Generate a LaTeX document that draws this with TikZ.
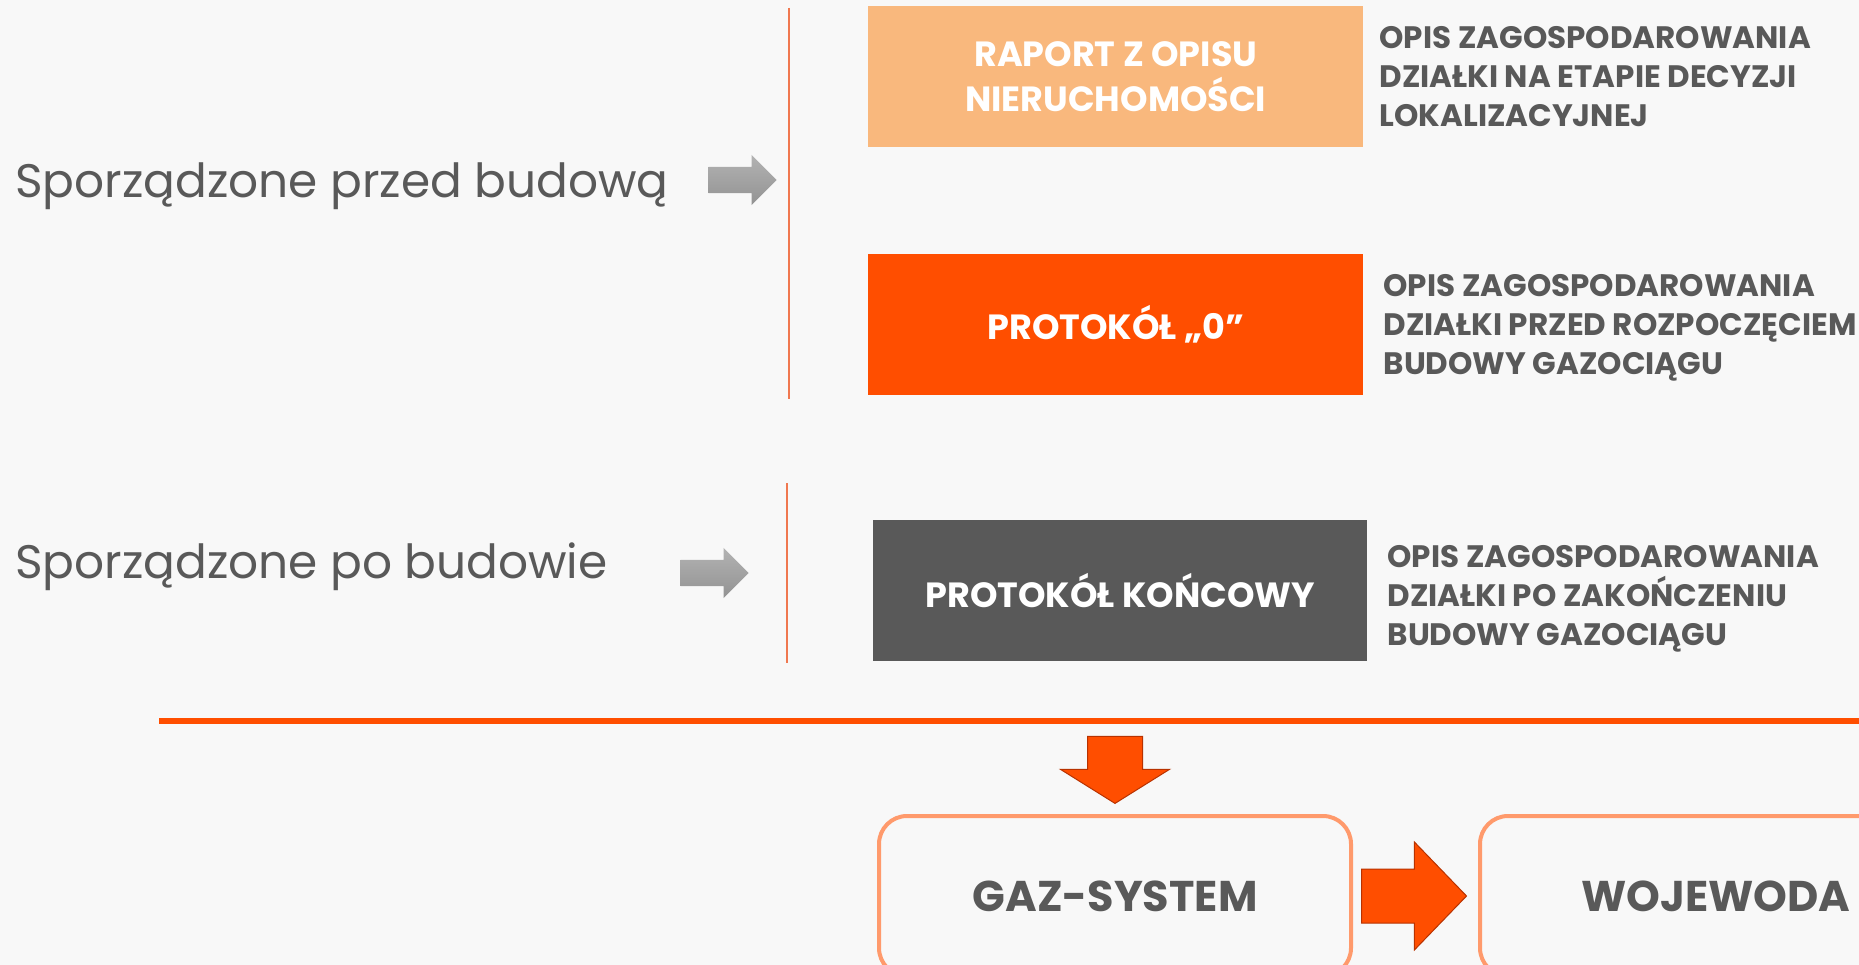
\documentclass[tikz,border=0pt]{standalone}
\usepackage{fontspec}
\setmainfont{Poppins}
\usetikzlibrary{positioning,shapes.arrows}

\definecolor{bgcol}{HTML}{F8F8F8}
\definecolor{txtgray}{HTML}{595959}
\definecolor{peach}{HTML}{F9B87D}
\definecolor{gasorange}{HTML}{FF4E00}
\definecolor{darkbox}{HTML}{595959}
\definecolor{sepline}{HTML}{F07850}
\definecolor{rimcol}{HTML}{FF9A6C}
\definecolor{arrowedge}{HTML}{B83200}

\tikzset{
  docbox/.style={inner sep=0pt, minimum width=495pt, minimum height=141pt, anchor=north west,
    text=white, align=center, font=\fontsize{35}{45}\selectfont\bfseries},
  desc/.style={inner sep=0pt, anchor=west, align=left, text=txtgray,
    font=\fontsize{31}{39}\selectfont\bfseries},
  phase/.style={inner sep=0pt, anchor=base west, text=txtgray, font=\fontsize{47}{56}\selectfont},
  grayarrow/.style={single arrow, inner xsep=0pt, inner ysep=13pt, minimum height=68pt, minimum width=50pt,
    single arrow head extend=12pt, single arrow tip angle=90, top color=gray!60, bottom color=gray!85},
  redarrow/.style={single arrow, fill=gasorange, draw=arrowedge, line width=1pt},
  roundbox/.style={draw=rimcol, line width=4pt, rounded corners=28pt, minimum width=472pt,
    minimum height=160pt, text=txtgray, font=\fontsize{43}{50}\selectfont\bfseries}
}

\begin{document}
\begin{tikzpicture}[x=1pt, y=-1pt]

\useasboundingbox (0,0) rectangle (1859,965);
\fill[bgcol] (0,0) rectangle (1859,965);
\clip (0,0) rectangle (1859,965);

% before construction
\node[phase] (before) at (15,198) {Sporządzone przed budową};
\node[grayarrow, anchor=tip] (arr1) at (777,180) {};
\draw[sepline, line width=1.5pt] (789,8) -- (789,399);

\node[docbox, fill=peach] (raport) at (868,6) {RAPORT Z OPISU\\NIERUCHOMOŚCI};
\node[desc, right=16pt of raport] (raportdesc) {OPIS ZAGOSPODAROWANIA\\DZIAŁKI NA ETAPIE DECYZJI\\LOKALIZACYJNEJ};

\node[docbox, fill=gasorange] (zero) at (868,254) {PROTOKÓŁ „0”};
\node[desc, right=20pt of zero, yshift=-3pt] (zerodesc) {OPIS ZAGOSPODAROWANIA\\DZIAŁKI PRZED ROZPOCZĘCIEM\\BUDOWY GAZOCIĄGU};

% after construction
\node[phase] (after) at (15,578) {Sporządzone po budowie};
\node[grayarrow, anchor=tip] (arr2) at (749,573) {};
\draw[sepline, line width=1.5pt] (787,483) -- (787,663);

\node[docbox, fill=darkbox, minimum width=494pt] (final) at (873,520) {PROTOKÓŁ KOŃCOWY};
\node[desc, right=20pt of final, yshift=-8pt] (finaldesc) {OPIS ZAGOSPODAROWANIA\\DZIAŁKI PO ZAKOŃCZENIU\\BUDOWY GAZOCIĄGU};

\draw[gasorange, line width=6pt] (159,721) -- (1859,721);

% recipients
\node[roundbox, anchor=north west] (gaz) at (877,814) {GAZ-SYSTEM};
\node[roundbox, right=125pt of gaz] (woj) {WOJEWODA};

\node[redarrow, shape border rotate=270, inner xsep=27pt, inner ysep=0pt, minimum height=67pt, minimum width=109pt,
  single arrow head extend=27pt, single arrow tip angle=116, above=10pt of gaz, anchor=tip] (down) {};
\node[redarrow, inner xsep=0pt, inner ysep=26.5pt, minimum height=105pt, minimum width=107pt,
  single arrow head extend=27pt, single arrow tip angle=92, right=8pt of gaz, anchor=tail] (toright) {};
\end{tikzpicture}
\end{document}
